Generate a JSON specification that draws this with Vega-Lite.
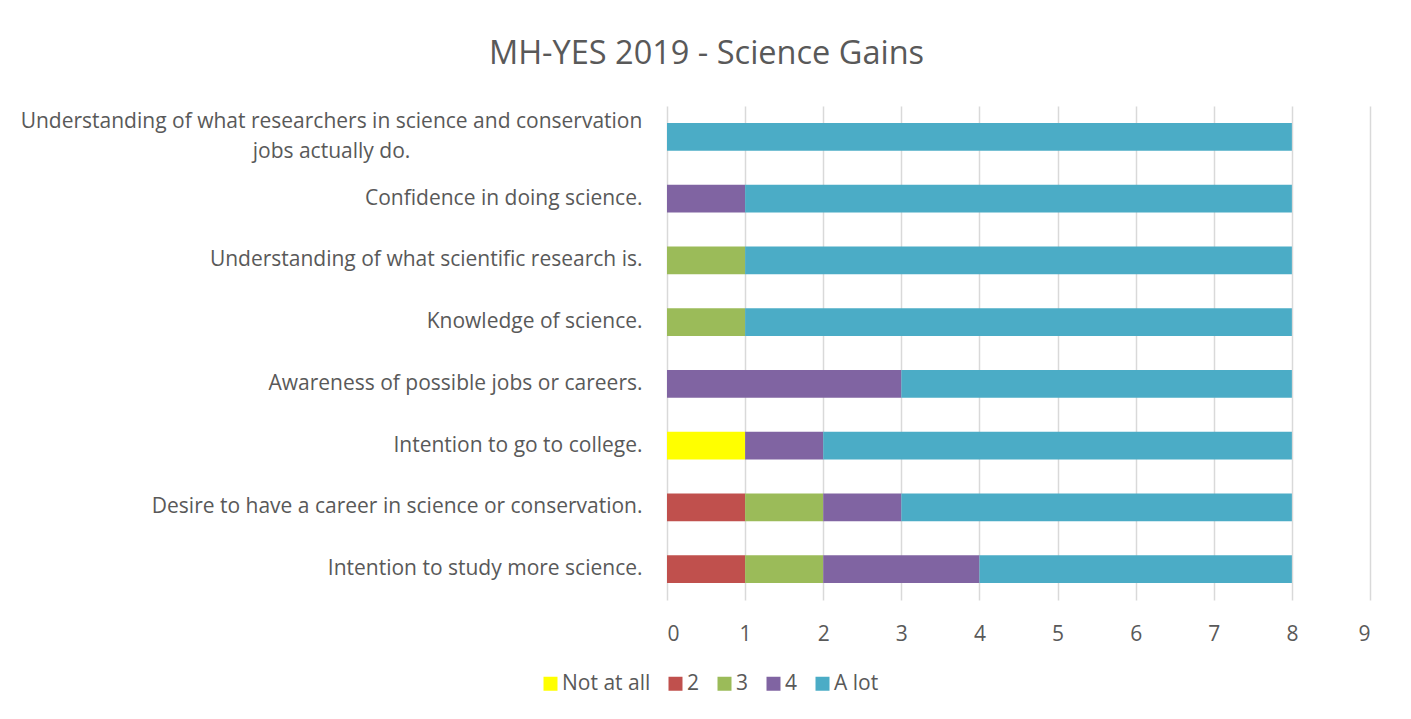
{
  "$schema": "https://vega.github.io/schema/vega-lite/v6.json",
  "width": 703,
  "height": 494,
  "autosize": {"type": "none"},
  "padding": {"left": 667, "top": 106, "right": 41, "bottom": 119},
  "background": "white",
  "title": {
    "text": "MH-YES 2019 - Science Gains",
    "anchor": "middle",
    "dx": -312,
    "offset": 36,
    "fontSize": 32.5,
    "font": "Open Sans",
    "fontWeight": "normal",
    "color": "#595959"
  },
  "data": {
    "values": [
      {"item": "Understanding of what researchers in science and conservation jobs actually do.", "level": "A lot", "count": 8},
      {"item": "Confidence in doing science.", "level": "4", "count": 1},
      {"item": "Confidence in doing science.", "level": "A lot", "count": 7},
      {"item": "Understanding of what scientific research is.", "level": "3", "count": 1},
      {"item": "Understanding of what scientific research is.", "level": "A lot", "count": 7},
      {"item": "Knowledge of science.", "level": "3", "count": 1},
      {"item": "Knowledge of science.", "level": "A lot", "count": 7},
      {"item": "Awareness of possible jobs or careers.", "level": "4", "count": 3},
      {"item": "Awareness of possible jobs or careers.", "level": "A lot", "count": 5},
      {"item": "Intention to go to college.", "level": "Not at all", "count": 1},
      {"item": "Intention to go to college.", "level": "4", "count": 1},
      {"item": "Intention to go to college.", "level": "A lot", "count": 6},
      {"item": "Desire to have a career in science or conservation.", "level": "2", "count": 1},
      {"item": "Desire to have a career in science or conservation.", "level": "3", "count": 1},
      {"item": "Desire to have a career in science or conservation.", "level": "4", "count": 1},
      {"item": "Desire to have a career in science or conservation.", "level": "A lot", "count": 5},
      {"item": "Intention to study more science.", "level": "2", "count": 1},
      {"item": "Intention to study more science.", "level": "3", "count": 1},
      {"item": "Intention to study more science.", "level": "4", "count": 2},
      {"item": "Intention to study more science.", "level": "A lot", "count": 4}
    ]
  },
  "transform": [
    {"calculate": "indexof(['Not at all','2','3','4','A lot'], datum.level)", "as": "rank"}
  ],
  "mark": {"type": "bar"},
  "encoding": {
    "y": {
      "field": "item",
      "type": "nominal",
      "sort": null,
      "scale": {"paddingInner": 0.55, "paddingOuter": 0.275},
      "axis": {
        "title": null,
        "domain": false,
        "ticks": false,
        "labelFontSize": 21,
        "labelFont": "Open Sans",
        "labelColor": "#595959",
        "labelLimit": 700,
        "labelLineHeight": 30,
        "labelExpr": "datum.value == 'Understanding of what researchers in science and conservation jobs actually do.' ? ['Understanding of what researchers in science and conservation', 'jobs actually do.'] : datum.value",
        "labelAlign": {"condition": {"test": "datum.value == 'Understanding of what researchers in science and conservation jobs actually do.'", "value": "center"}, "value": "right"},
        "labelPadding": {"condition": {"test": "datum.value == 'Understanding of what researchers in science and conservation jobs actually do.'", "value": 336}, "value": 25},
        "labelOffset": {"condition": {"test": "datum.value == 'Understanding of what researchers in science and conservation jobs actually do.'", "value": -15}, "value": 0}
      }
    },
    "x": {
      "field": "count",
      "type": "quantitative",
      "stack": "zero",
      "scale": {"domain": [0, 9], "nice": false},
      "axis": {
        "title": null,
        "domain": false,
        "ticks": false,
        "values": [0, 1, 2, 3, 4, 5, 6, 7, 8, 9],
        "labelPadding": 23,
        "labelFontSize": 21,
        "labelFont": "Open Sans",
        "labelColor": "#595959",
        "gridColor": "#d9d9d9",
        "gridWidth": 1.5
      }
    },
    "color": {
      "field": "level",
      "type": "nominal",
      "scale": {
        "domain": ["Not at all", "2", "3", "4", "A lot"],
        "range": ["#FFFF00", "#C0504D", "#9BBB59", "#8064A2", "#4BACC6"]
      },
      "legend": {
        "title": null,
        "orient": "none",
        "direction": "horizontal",
        "legendX": -127,
        "legendY": 567,
        "symbolType": "square",
        "symbolSize": 196,
        "symbolStrokeWidth": 0,
        "labelFontSize": 21,
        "labelFont": "Open Sans",
        "labelColor": "#595959",
        "columnPadding": 14,
        "labelOffset": 1
      }
    },
    "order": {"field": "rank", "type": "quantitative", "sort": "ascending"}
  },
  "config": {
    "view": {"stroke": null}
  }
}
